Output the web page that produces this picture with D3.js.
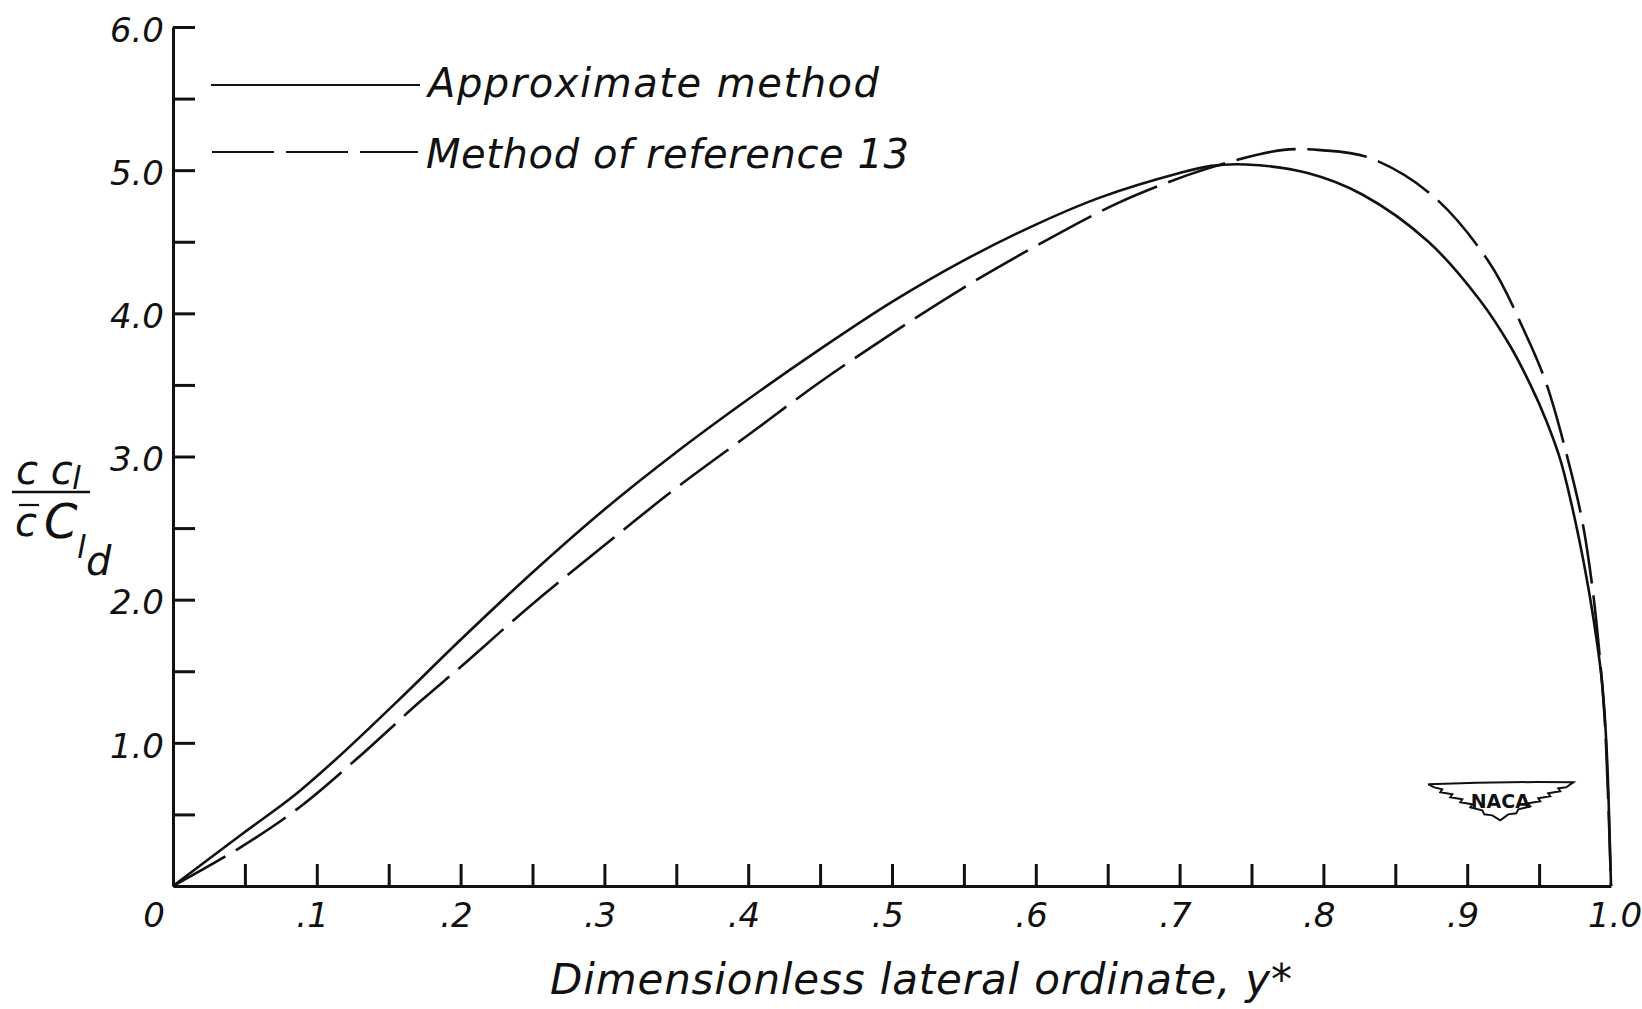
<!DOCTYPE html>
<html>
<head>
<meta charset="utf-8">
<script src="https://cdn.jsdelivr.net/npm/d3@7"></script>
<style>
  body { margin: 0; background: #fff; }
  svg { display: block; background: #fff; }
  text { font-family: "DejaVu Sans", sans-serif; font-style: oblique; font-weight: 200; fill: #111; }
</style>
</head>
<body>
<svg></svg>
<script>
// x: dimensionless lateral ordinate y*, y: c c_l / (c-bar C_l_d)
let width  = 1642,
    height = 1009;
let plotLeft = 173, plotRight = 1611, plotTop = 27, plotBottom = 886;

// Approximate method (solid)
const approxX = [0, 0.049, 0.084, 0.116, 0.156, 0.2, 0.25, 0.3, 0.35, 0.4, 0.45, 0.5, 0.55, 0.6, 0.645,
                 0.7, 0.722, 0.746, 0.789, 0.827, 0.873, 0.909, 0.93, 0.944, 0.955, 0.965, 0.976, 0.985, 0.991, 0.994, 0.997, 1.0];
const approxY = [0, 0.37, 0.63, 0.91, 1.29, 1.72, 2.19, 2.63, 3.03, 3.40, 3.75, 4.08, 4.37, 4.62, 4.81,
                 4.98, 5.03, 5.04, 4.98, 4.83, 4.50, 4.09, 3.77, 3.50, 3.25, 2.97, 2.51, 2.04, 1.65, 1.40, 0.95, 0];

// Method of reference 13 (dashed)
const refX = [0, 0.047, 0.088, 0.128, 0.172, 0.2, 0.25, 0.3, 0.35, 0.4, 0.45, 0.5, 0.55, 0.6, 0.657, 0.704,
              0.732, 0.771, 0.798, 0.831, 0.875, 0.915, 0.940, 0.955, 0.969, 0.980, 0.987, 0.992, 0.996, 1.0];
const refY = [0, 0.27, 0.55, 0.89, 1.29, 1.53, 1.97, 2.38, 2.78, 3.15, 3.52, 3.86, 4.18, 4.47, 4.77, 4.96,
              5.05, 5.14, 5.14, 5.09, 4.83, 4.36, 3.87, 3.51, 3.02, 2.55, 2.09, 1.62, 1.10, 0];

const xMinorTicks = [0.05, 0.1, 0.15, 0.2, 0.25, 0.3, 0.35, 0.4, 0.45, 0.5, 0.55, 0.6, 0.65, 0.7, 0.75, 0.8, 0.85, 0.9, 0.95];
const xLabelValues = [0.1, 0.2, 0.3, 0.4, 0.5, 0.6, 0.7, 0.8, 0.9];
const xLabels = ['.1', '.2', '.3', '.4', '.5', '.6', '.7', '.8', '.9'];
const yTicks = [0.5, 1, 1.5, 2, 2.5, 3, 3.5, 4, 4.5, 5, 5.5, 6];
const yLabels = {1: '1.0', 2: '2.0', 3: '3.0', 4: '4.0', 5: '5.0', 6: '6.0'};

let svg = d3.select('svg')
    .attr('width', width)
    .attr('height', height);

let xScale = d3.scaleLinear().domain([0, 1]).range([plotLeft, plotRight]),
    yScale = d3.scaleLinear().domain([0, 6]).range([plotBottom, plotTop]);

let xAxis = d3.axisBottom(xScale)
                .tickValues(xMinorTicks)
                .tickSize(-22)
                .tickSizeOuter(0)
                .tickFormat(''),
    yAxis = d3.axisLeft(yScale)
                .tickValues(yTicks)
                .tickSize(-22)
                .tickSizeOuter(0)
                .tickPadding(9)
                .tickFormat(d => yLabels[d] || '');

//X Axis
let gx = svg.append('g')
    .attr('transform', `translate(0, ${plotBottom})`)
    .call(xAxis);
//Y Axis
let gy = svg.append('g')
    .attr('transform', `translate(${plotLeft}, 0)`)
    .call(yAxis);

svg.selectAll('.domain, .tick line')
    .attr('stroke', '#111')
    .attr('stroke-width', 3);
gy.selectAll('.tick text')
    .style('font-size', '34px')
    .attr('dy', '0.42em');

//x tick labels
svg.append('text')
    .attr('x', xScale(0) - 8)
    .attr('y', plotBottom + 41)
    .attr('text-anchor', 'end')
    .style('font-size', '34px')
    .text('0');

svg.selectAll('.xlab')
  .data(xLabelValues)
  .enter()
  .append('text')
    .attr('class', 'xlab')
    .attr('x', d => xScale(d) + 12)
    .attr('y', plotBottom + 41)
    .attr('text-anchor', 'end')
    .style('font-size', '34px')
    .text((d, i) => xLabels[i]);

svg.append('text')
    .attr('x', xScale(1) + 4)
    .attr('y', plotBottom + 41)
    .attr('text-anchor', 'middle')
    .style('font-size', '34px')
    .text('1.0');

//Curves
let line = d3.line()
    .x(d => xScale(d[0]))
    .y(d => yScale(d[1]))
    .curve(d3.curveCatmullRom.alpha(0.5));

svg.append('path')
    .datum(approxX.map((v, i) => [v, approxY[i]]))
    .attr('d', line)
    .attr('fill', 'none')
    .attr('stroke', '#111')
    .attr('stroke-width', 2.6);

svg.append('path')
    .datum(refX.map((v, i) => [v, refY[i]]))
    .attr('d', line)
    .attr('fill', 'none')
    .attr('stroke', '#111')
    .attr('stroke-width', 2.6)
    .attr('stroke-dasharray', '60,12');

//Legend
svg.append('line')
    .attr('x1', 211).attr('x2', 420)
    .attr('y1', 85).attr('y2', 85)
    .attr('stroke', '#111')
    .attr('stroke-width', 2.2);
svg.append('line')
    .attr('x1', 212).attr('x2', 418)
    .attr('y1', 152).attr('y2', 152)
    .attr('stroke', '#111')
    .attr('stroke-width', 2.2)
    .attr('stroke-dasharray', '62,12');

svg.append('text')
    .attr('x', 428)
    .attr('y', 97)
    .attr('textLength', 451)
    .attr('lengthAdjust', 'spacing')
    .style('font-size', '40px')
    .text('Approximate method');
svg.append('text')
    .attr('x', 426)
    .attr('y', 168)
    .attr('textLength', 483)
    .attr('lengthAdjust', 'spacing')
    .style('font-size', '40px')
    .text('Method of reference 13');

//x title
svg.append('text')
    .attr('x', 550)
    .attr('y', 994)
    .attr('textLength', 742)
    .attr('lengthAdjust', 'spacing')
    .style('font-size', '42px')
    .text('Dimensionless lateral ordinate, y*');

//y title as a fraction
let yt = svg.append('g');
yt.append('text')
    .attr('x', 16).attr('y', 484)
    .style('font-size', '40px')
    .text('c c');
yt.append('text')
    .attr('x', 72).attr('y', 489)
    .style('font-size', '32px')
    .text('l');
yt.append('line')
    .attr('x1', 12).attr('x2', 90)
    .attr('y1', 492).attr('y2', 492)
    .attr('stroke', '#111')
    .attr('stroke-width', 2.4);
yt.append('line')
    .attr('x1', 19).attr('x2', 39)
    .attr('y1', 505).attr('y2', 505)
    .attr('stroke', '#111')
    .attr('stroke-width', 2.2);
yt.append('text')
    .attr('x', 15).attr('y', 536)
    .style('font-size', '40px')
    .text('c');
yt.append('text')
    .attr('x', 44).attr('y', 538)
    .style('font-size', '48px')
    .text('C');
yt.append('text')
    .attr('x', 77).attr('y', 558)
    .style('font-size', '32px')
    .text('l');
yt.append('text')
    .attr('x', 86).attr('y', 575)
    .style('font-size', '40px')
    .text('d');

//NACA mark
let logo = svg.append('g')
    .attr('transform', `translate(${xScale(0.923)}, ${yScale(0.71)})`);
logo.append('path')
    .attr('d', 'M-72,0 Q0,-3 73,-2 L66,3 L58,4 L60,7 L48,9 L50,12 L38,14 L40,17 L28,19 L30,22 L18,25 L16,29 L8,30 L0,36 ' +
               'L-8,31 L-16,30 L-18,26 L-30,23 L-28,20 L-40,18 L-38,15 L-50,13 L-48,10 L-60,8 L-58,5 L-66,3 Z')
    .attr('fill', 'none')
    .attr('stroke', '#111')
    .attr('stroke-width', 2);
logo.append('text')
    .attr('x', 0).attr('y', 24)
    .attr('text-anchor', 'middle')
    .style('font-size', '19px')
    .style('font-style', 'normal')
    .style('font-weight', 'bold')
    .text('NACA');
</script>
</body>
</html>
